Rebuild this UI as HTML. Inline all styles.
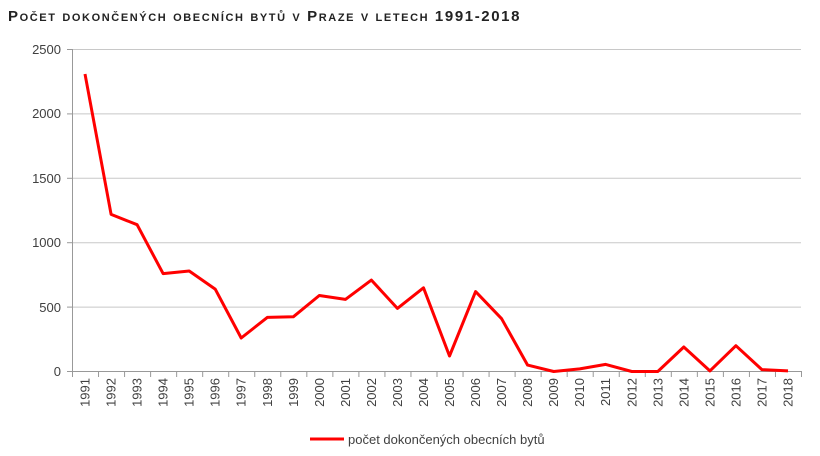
<!DOCTYPE html>
<html><head><meta charset="utf-8"><style>
body{margin:0;background:#fff;width:820px;height:456px;overflow:hidden}
svg{display:block}
text{font-family:"Liberation Sans",sans-serif;fill:#404040}
</style></head><body>
<svg width="820" height="456" xmlns="http://www.w3.org/2000/svg">
<text x="8" y="21" style="font-size:15px;font-weight:bold;font-variant:small-caps;letter-spacing:1.6px;fill:#222">Počet dokončených obecních bytů v Praze v letech 1991-2018</text>
<g stroke="#c8c8c8" stroke-width="1">
<line x1="72" y1="49.5" x2="801" y2="49.5"/>
<line x1="72" y1="113.9" x2="801" y2="113.9"/>
<line x1="72" y1="178.3" x2="801" y2="178.3"/>
<line x1="72" y1="242.7" x2="801" y2="242.7"/>
<line x1="72" y1="307.1" x2="801" y2="307.1"/>
</g>
<g stroke="#999" stroke-width="1">
<line x1="72" y1="371.5" x2="801" y2="371.5"/>
<line x1="72.5" y1="49" x2="72.5" y2="371"/>
<line x1="67" y1="49.5" x2="72" y2="49.5"/><line x1="67" y1="113.9" x2="72" y2="113.9"/><line x1="67" y1="178.3" x2="72" y2="178.3"/><line x1="67" y1="242.7" x2="72" y2="242.7"/><line x1="67" y1="307.1" x2="72" y2="307.1"/><line x1="67" y1="371.5" x2="72" y2="371.5"/>
</g>
<g id="ticks" stroke="#999"></g>
<g style="font-size:13px" text-anchor="end">
<text x="61" y="54">2500</text><text x="61" y="118">2000</text><text x="61" y="183">1500</text><text x="61" y="247">1000</text><text x="61" y="312">500</text><text x="61" y="376">0</text>
</g>
<g id="xl" style="font-size:13px" text-anchor="end"></g>
<polyline id="ln" fill="none" stroke="#ff0000" stroke-width="3" stroke-linejoin="round"/>
<line x1="310" y1="439" x2="344" y2="439" stroke="#ff0000" stroke-width="3"/>
<text x="348" y="444" style="font-size:13px">počet dokončených obecních bytů</text>
</svg>
<script>
var d=[2310,1220,1140,760,780,640,260,420,425,590,560,710,490,650,120,620,410,50,0,20,55,0,0,190,5,200,15,5];
var ns="http://www.w3.org/2000/svg",pts=[],w=729/28;
var t=document.getElementById("ticks"),xl=document.getElementById("xl");
for(var i=0;i<=28;i++){var l=document.createElementNS(ns,"line");var x=72.5+i*w;l.setAttribute("x1",x);l.setAttribute("x2",x);l.setAttribute("y1",371);l.setAttribute("y2",377);t.appendChild(l);}
d.forEach(function(v,i){var x=72+w*(i+0.5),y=371.5-v*322/2500;pts.push(x.toFixed(1)+","+y.toFixed(1));
var tx=document.createElementNS(ns,"text");tx.setAttribute("transform","translate("+(x+4.5)+",378) rotate(-90)");tx.textContent=1991+i;xl.appendChild(tx);});
document.getElementById("ln").setAttribute("points",pts.join(" "));
</script>
</body></html>
